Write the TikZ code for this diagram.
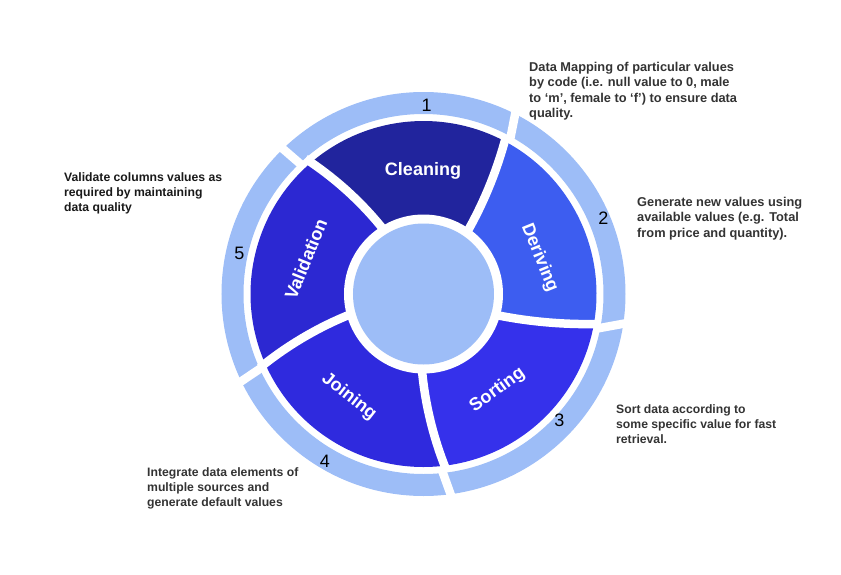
\documentclass[tikz,border=0pt]{standalone}
\usepackage{fontspec}
\setmainfont{Liberation Sans}
\definecolor{ringblue}{HTML}{9DBDF7}
\definecolor{cClean}{HTML}{21249D}
\definecolor{cDerive}{HTML}{3D5DF0}
\definecolor{cSort}{HTML}{3531EB}
\definecolor{cJoin}{HTML}{2F2ADE}
\definecolor{cValid}{HTML}{2C28D2}
\definecolor{desctext}{HTML}{333333}
\newcommand\mysector[5]{%
  \fill[#1] plot[domain=0:1,samples=14,variable=\t] ({#2+\t*(#3-#2)}:{78+\t*95})
    arc[start angle=#3, end angle=#5, radius=173]
    -- plot[domain=1:0,samples=14,variable=\t] ({#4+\t*(#5-#4)}:{78+\t*95})
    arc[start angle=#4, end angle=#2, radius=78] -- cycle;}
\newcommand\mysep[2]{%
  \draw[sepline] plot[domain=-0.06:1.07,samples=16,variable=\t] ({#1+\t*(#2-#1)}:{78+\t*95});}
\tikzset{
  sepline/.style={white, line width=8.5pt},
  gapline/.style={white, line width=8.5pt},
  seglabel/.style={white, font=\bfseries\fontsize{18}{21}\selectfont, inner sep=0pt},
  num/.style={black, font=\fontsize{18}{21}\selectfont, inner sep=0pt},
  desc/.style={desctext, font=\bfseries\fontsize{12.8}{15.4}\selectfont, align=left, anchor=base west, inner sep=0pt},
  descsmall/.style={desctext, font=\bfseries\fontsize{12.2}{15}\selectfont, align=left, anchor=base west, inner sep=0pt},
}
\begin{document}
\begin{tikzpicture}[x=1pt,y=1pt]
\useasboundingbox (-423.5,-280) rectangle (417.5,294);
% outer ring
\fill[ringblue,even odd rule] (0,0) circle[radius=202] (0,0) circle[radius=180];
\draw[gapline] (60.5:175) -- (63.4:207);
\draw[gapline] (133.3:175) -- (134.2:207);
\draw[gapline] (-11.5:175) -- (-8:207);
\draw[gapline] (-84.2:175) -- (-82:207);
\draw[gapline] (204.3:175) -- (205.8:207);
% segments
\mysector{cClean}{55}{62}{122}{130.5}
\mysector{cDerive}{-16}{-10}{55}{62}
\mysector{cSort}{-91}{-83}{-16}{-10}
\mysector{cJoin}{-164.3}{-156.3}{-91}{-83}
\mysector{cValid}{122}{130.5}{195.7}{203.7}
\mysep{122}{130.5}
\mysep{55}{62}
\mysep{-16}{-10}
\mysep{-91}{-83}
\mysep{-164.3}{-156.3}
% centre
\fill[white] (0,0) circle[radius=79.5];
\fill[ringblue] (0,0) circle[radius=70.5];
% segment labels
\node[seglabel] (cleaning) at (-0.5,123.5) {Cleaning};
\node[seglabel, rotate=-68] (deriving) at (116,36) {Deriving};
\node[seglabel, rotate=36] (sorting) at (74,-96) {Sorting};
\node[seglabel, rotate=-38] (joining) at (-74.5,-102.7) {Joining};
\node[seglabel, rotate=68] (validation) at (-117.7,35) {Validation};
% numbers
\node[num] (n1) at (3.2,189) {1};
\node[num] (n2) at (179.8,75.7) {2};
\node[num] (n3) at (135.8,-126) {3};
\node[num] (n4) at (-98.5,-167.7) {4};
\node[num] (n5) at (-184.2,40.7) {5};
% descriptions (anchored at the baseline of the last line)
\node[desc] (d1) at (105.5,176.3) {Data Mapping of particular values\\by code (i.e. null value to 0, male\\to ‘m’, female to ‘f’) to ensure data\\quality.};
\node[desc] (d2) at (213.5,56.7) {Generate new values using\\available values (e.g. Total\\from price and quantity).};
\node[descsmall] (d3) at (192.5,-149.5) {Sort data according to\\some specific value for fast\\retrieval.};
\node[descsmall] (d4) at (-276.5,-212.5) {Integrate data elements of\\multiple sources and\\generate default values};
\node[descsmall, text=black!90] (d5) at (-359.5,82.5) {Validate columns values as\\required by maintaining\\data quality};
\end{tikzpicture}
\end{document}
